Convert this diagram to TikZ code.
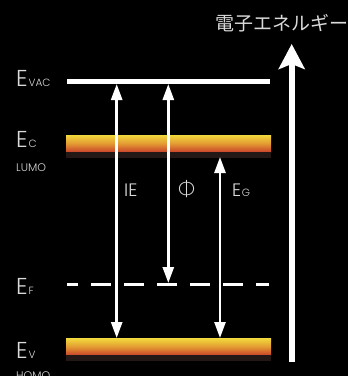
\documentclass[tikz,border=0pt]{standalone}
\usepackage{fontspec}
\setmainfont{Poppins}[UprightFont=* Light]
\newfontfamily\grk{Lato}[UprightFont=* Light]
\newfontfamily\jp{Noto Sans CJK JP}
\usetikzlibrary{arrows.meta}
\definecolor{lbl}{HTML}{DADADA}
\definecolor{bandtop}{HTML}{F2D83C}
\definecolor{bandmid}{HTML}{E39A32}
\definecolor{bandbot}{HTML}{C9432A}
\definecolor{banddark}{HTML}{231816}
\begin{document}
\begin{tikzpicture}[x=1pt,y=-1pt,
  lab/.style={text=lbl,inner sep=0pt,anchor=base west,font=\fontsize{23}{23}\selectfont},
  sub/.style={text=lbl,inner sep=0pt,anchor=base west,font=\fontsize{10.5}{10.5}\selectfont},
  small/.style={text=lbl,inner sep=0pt,anchor=base west,font=\fontsize{11}{11}\selectfont},
  mid/.style={text=lbl,inner sep=0pt,anchor=base west,font=\fontsize{18}{18}\selectfont},
  level/.style={line width=5pt,white},
  dbl/.style={white,line width=2.6pt,{Triangle[width=11pt,length=16pt]}-{Triangle[width=11pt,length=16pt]}},
  band/.style={top color=bandtop,bottom color=bandbot,middle color=bandmid,draw=none}]
\fill[black] (0,0) rectangle (348,376);
\useasboundingbox (0,0) rectangle (348,376);

% coordinates
\coordinate (vacL) at (67,81.5);
\coordinate (vacR) at (270,81.5);
\coordinate (fL) at (67,284);
\coordinate (fR) at (269,284);
\coordinate (ieT) at (116.7,84);
\coordinate (ieB) at (116.7,338);
\coordinate (phT) at (168.3,84);
\coordinate (phB) at (168.3,283);
\coordinate (egT) at (220,157);
\coordinate (egB) at (220,338);
\coordinate (enB) at (291.7,362);
\coordinate (enT) at (291.7,44);

% bands
\shade[band] (66,135) rectangle (271,152);
\fill[banddark] (66,152) rectangle (271,158);
\shade[band] (66,338.5) rectangle (271,355);
\fill[banddark] (66,355) rectangle (271,361);

% levels
\draw[level] (vacL) -- (vacR);
\draw[white,line width=3pt,dash pattern=on 20pt off 13pt,dash phase=9pt] (fL) -- (fR);

% arrows
\draw[dbl] (ieT) -- (ieB);
\draw[dbl] (phT) -- (phB);
\draw[dbl] (egT) -- (egB);
\draw[white,line width=6pt,-{Stealth[width=26pt,length=25pt,inset=5pt]}] (enB) -- (enT);

% labels
\node[lab] (evac) at (16,86) {E};
\node[sub] (evacs) at (evac.base east) [xshift=0.5pt] {VAC};
\node[lab] (ec) at (16,147) {E};
\node[sub] (ecs) at (ec.base east) [xshift=0.5pt] {C};
\node[small] (lumo) at (16,171) {LUMO};
\node[lab] (ef) at (16,294) {E};
\node[sub] (efs) at (ef.base east) [xshift=0.5pt] {F};
\node[lab] (ev) at (16,358) {E};
\node[sub] (evs) at (ev.base east) [xshift=0.5pt] {V};
\node[small] (homo) at (16,379) {HOMO};

\node[mid] (ie) at (124,196) {IE};
\node[mid] (phi) at (178,196) {\grk\fontsize{21}{21}\selectfont Φ};
\node[mid] (eg) at (232,196) {E};
\node[sub] (egs) at (eg.base east) [xshift=0.3pt] {G};

\node[text=lbl,inner sep=0pt,anchor=base west,font=\jp\fontsize{19}{19}\selectfont] (energy) at (215,30) {電子エネルギー};
\end{tikzpicture}
\end{document}
